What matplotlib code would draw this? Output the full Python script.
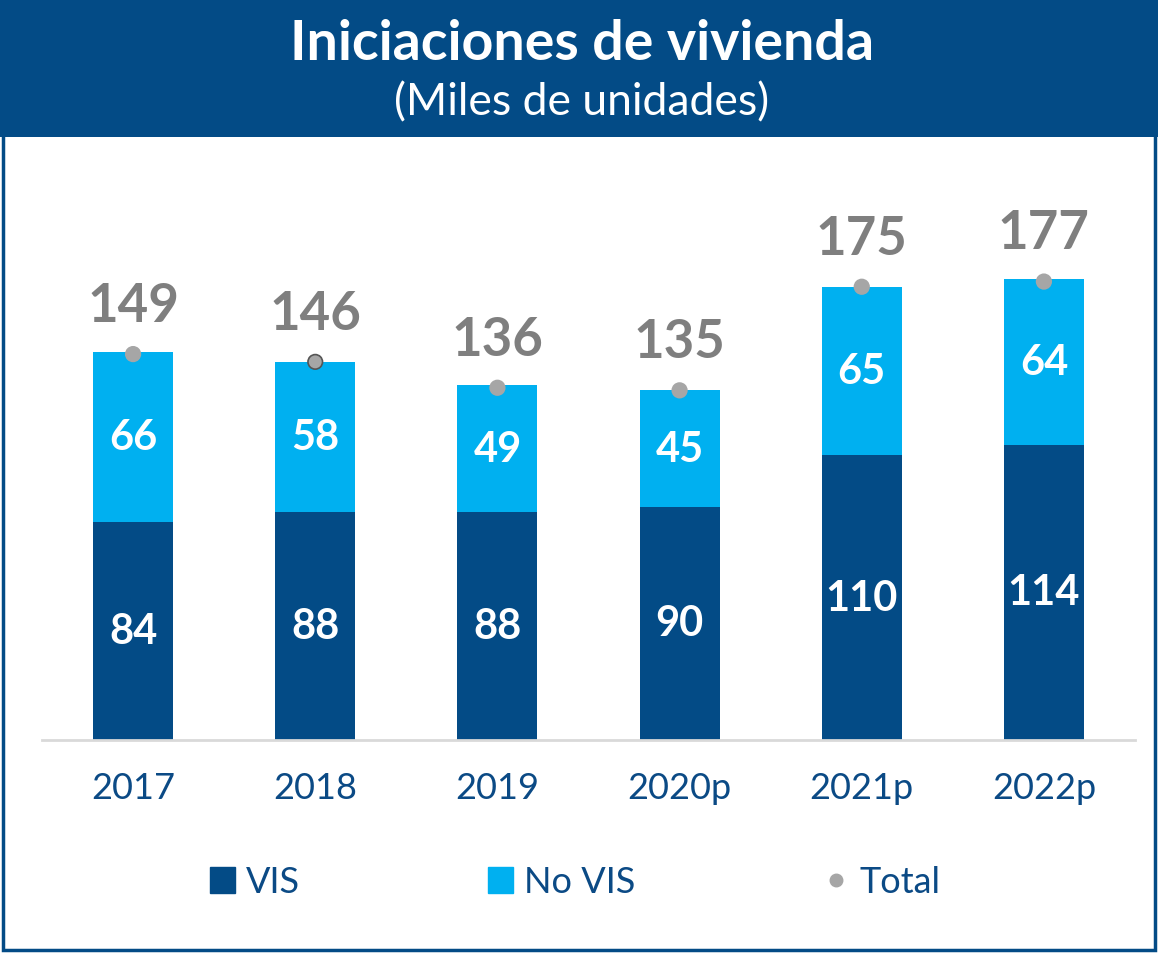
import matplotlib
matplotlib.use("Agg")
import matplotlib.pyplot as plt
from matplotlib.patches import Rectangle
from matplotlib.lines import Line2D

plt.rcParams['font.family'] = ['Lato', 'DejaVu Sans']

categories = ["2017", "2018", "2019", "2020p", "2021p", "2022p"]
vis = [84, 88, 88, 90, 110, 114]
no_vis = [66, 58, 49, 45, 65, 64]
total = [149, 146, 136, 135, 175, 177]

DARK = "#034b86"
LIGHT = "#00b0f0"
GRAY = "#a6a6a6"
GRAYTXT = "#7f7f7f"
TXT = "#0b4a85"

W, H = 1158, 954
fig = plt.figure(figsize=(W / 100, H / 100), dpi=100)

# banner and border
fig.patches.append(Rectangle((0, (H - 138) / H), 1, 138 / H, transform=fig.transFigure,
                             facecolor=DARK, edgecolor="none", zorder=0))
fig.patches.append(Rectangle((3 / W, 3 / H), (W - 6) / W, (H - 6) / H, transform=fig.transFigure,
                             facecolor="none", edgecolor=DARK, linewidth=2.5, zorder=5))
fig.text(582 / W, 1 - 44 / H, "Iniciaciones de vivienda", color="white", fontsize=40,
         fontweight="bold", ha="center", va="center")
fig.text(582 / W, 1 - 103 / H, "(Miles de unidades)", color="white", fontsize=32,
         ha="center", va="center")

left, right = 42 / W, 1135 / W
bottom = (H - 741) / H
height = 518 / H
ax = fig.add_axes([left, bottom, right - left, height])
x = list(range(len(categories)))
bw = 0.44
ax.bar(x, vis, width=bw, color=DARK, label="VIS", zorder=2)
ax.bar(x, no_vis, width=bw, bottom=vis, color=LIGHT, label="No VIS", zorder=2)
edge = [GRAY, "#555555", GRAY, GRAY, GRAY, GRAY]
ax.scatter(x, total, s=110, color=GRAY, edgecolors=edge, linewidths=1.2, zorder=4,
           label="Total")

for i in x:
    ax.text(i, vis[i] / 2, str(vis[i]), color="white", fontsize=30, fontweight="bold",
            ha="center", va="center", zorder=5)
    ax.text(i, vis[i] + no_vis[i] / 2, str(no_vis[i]), color="white", fontsize=30,
            fontweight="bold", ha="center", va="center", zorder=5)
    ax.annotate(str(total[i]), (i, total[i]), xytext=(0, 35), textcoords="offset points",
                color=GRAYTXT, fontsize=38, fontweight="bold", ha="center", va="center")

ax.set_xlim(-0.5, len(categories) - 0.5)
ax.set_ylim(0, 200)
ax.set_xticks(x)
ax.set_xticklabels(categories, color=TXT, fontsize=26)
ax.tick_params(axis="x", length=0, pad=22)
ax.set_yticks([])
for s in ["top", "right", "left"]:
    ax.spines[s].set_visible(False)
ax.spines["bottom"].set_color("#d9d9d9")
ax.spines["bottom"].set_linewidth(2)
ax.patch.set_alpha(0)

handles = [Rectangle((0, 0), 1, 1, color=DARK),
           Rectangle((0, 0), 1, 1, color=LIGHT),
           Line2D([], [], marker="o", linestyle="none", color=GRAY, markersize=9)]
fig.legend(handles, ["VIS", "No VIS", "Total"], loc="center", ncol=3,
           bbox_to_anchor=(575 / W, 1 - 883 / H), frameon=False, fontsize=26,
           labelcolor=TXT, handlelength=0.7, handleheight=0.7, handletextpad=0.3,
           columnspacing=5.2)

fig.savefig("out.png", dpi=100)
